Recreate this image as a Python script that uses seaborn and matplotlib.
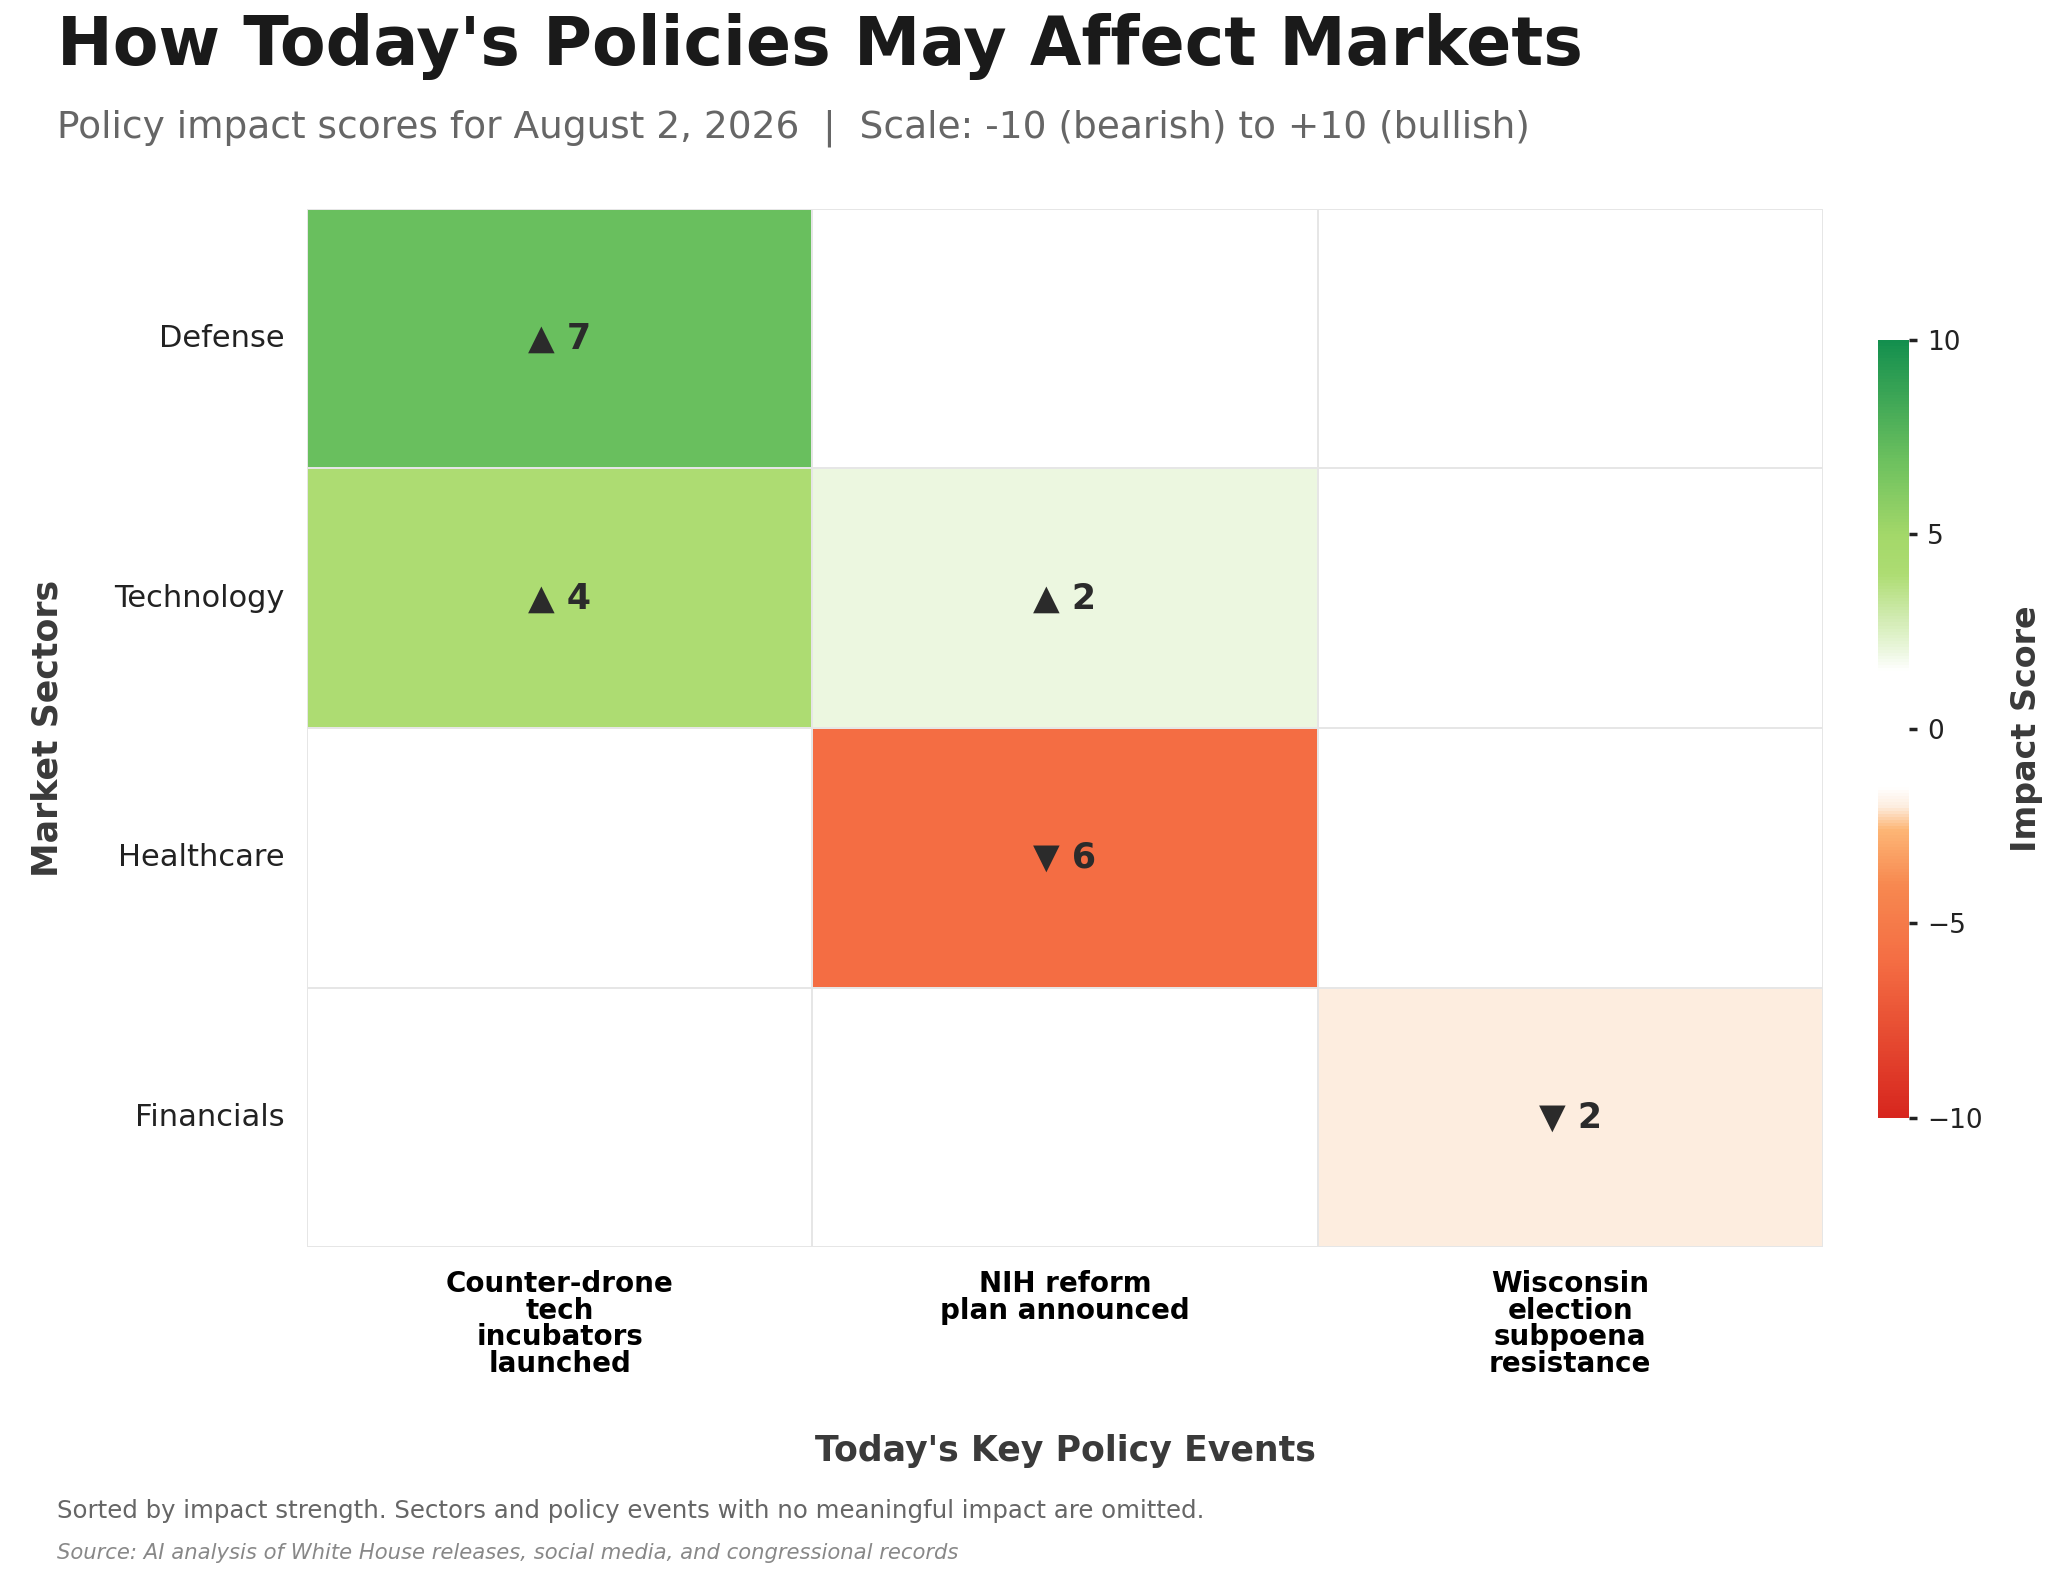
import matplotlib
matplotlib.use("Agg")
import matplotlib.pyplot as plt
import seaborn as sns
import numpy as np
import pandas as pd
from matplotlib.colors import LinearSegmentedColormap

sectors = ["Defense", "Technology", "Healthcare", "Financials"]
events = ["Counter-drone\ntech\nincubators\nlaunched", "NIH reform\nplan announced", "Wisconsin\nelection\nsubpoena\nresistance"]
scores = [[7, 0, 0],
          [4, 2, 0],
          [0, -6, 0],
          [0, 0, -2]]

df = pd.DataFrame(scores, index=sectors, columns=events)

sns.set_theme(style="white")
plt.rcParams['font.family'] = ['DejaVu Sans']

cmap = LinearSegmentedColormap.from_list("impact", [
    (0.00, "#d7261e"), (0.20, "#f46d43"), (0.30, "#f78950"), (0.37, "#fdb676"),
    (0.40, "#fdeddf"), (0.425, "#ffffff"), (0.575, "#ffffff"), (0.60, "#ecf7e0"),
    (0.70, "#addc72"), (0.75, "#a3d869"), (0.85, "#6abf5e"), (1.00, "#138f4e")])

fig = plt.figure(figsize=(10.24, 7.905), dpi=200)
ax = fig.add_axes([0.150, 0.211, 0.740, 0.657])
cax = fig.add_axes([0.917, 0.293, 0.015, 0.492])

sns.heatmap(df, ax=ax, cbar_ax=cax, cmap=cmap, vmin=-10, vmax=10,
            linewidths=0.6, linecolor="#e6e6e6", cbar_kws={"ticks": [10, 5, 0, -5, -10]})

for i, row in enumerate(scores):
    for j, v in enumerate(row):
        if v != 0:
            sym = "\u25B2" if v > 0 else "\u25BC"
            ax.text(j + 0.5, i + 0.5, f"{sym} {abs(v)}", ha="center", va="center",
                    fontsize=12.5, fontweight="bold", color="#2b2b2b")

ax.set_xticklabels(events, rotation=0, fontsize=10, fontweight="bold", color="black", linespacing=0.95)
ax.set_yticklabels(sectors, rotation=0, fontsize=11, color="#222222")
ax.tick_params(length=0, pad=8)
ax.set_xlabel("Today's Key Policy Events", fontsize=12.5, fontweight="bold", color="#3a3a3a", labelpad=20)
ax.set_ylabel("Market Sectors", fontsize=12.5, fontweight="bold", color="#3a3a3a", labelpad=18)

cax.tick_params(labelsize=9.5, length=3, colors="#222222")
cax.set_ylabel("Impact Score", fontsize=12, fontweight="bold", color="#3a3a3a", labelpad=10)

fig.text(0.028, 0.992, "How Today's Policies May Affect Markets", fontsize=24, fontweight="bold",
         color="#1a1a1a", va="top")
fig.text(0.028, 0.919, "Policy impact scores for August 2, 2026  |  Scale: -10 (bearish) to +10 (bullish)",
         fontsize=13.5, color="#666666", va="center")
fig.text(0.028, 0.044, "Sorted by impact strength. Sectors and policy events with no meaningful impact are omitted.",
         fontsize=8.8, color="#666666", va="center")
fig.text(0.028, 0.018, "Source: AI analysis of White House releases, social media, and congressional records",
         fontsize=7.6, color="#888888", style="italic", va="center")

fig.savefig("out.png", dpi=200, facecolor="white")
